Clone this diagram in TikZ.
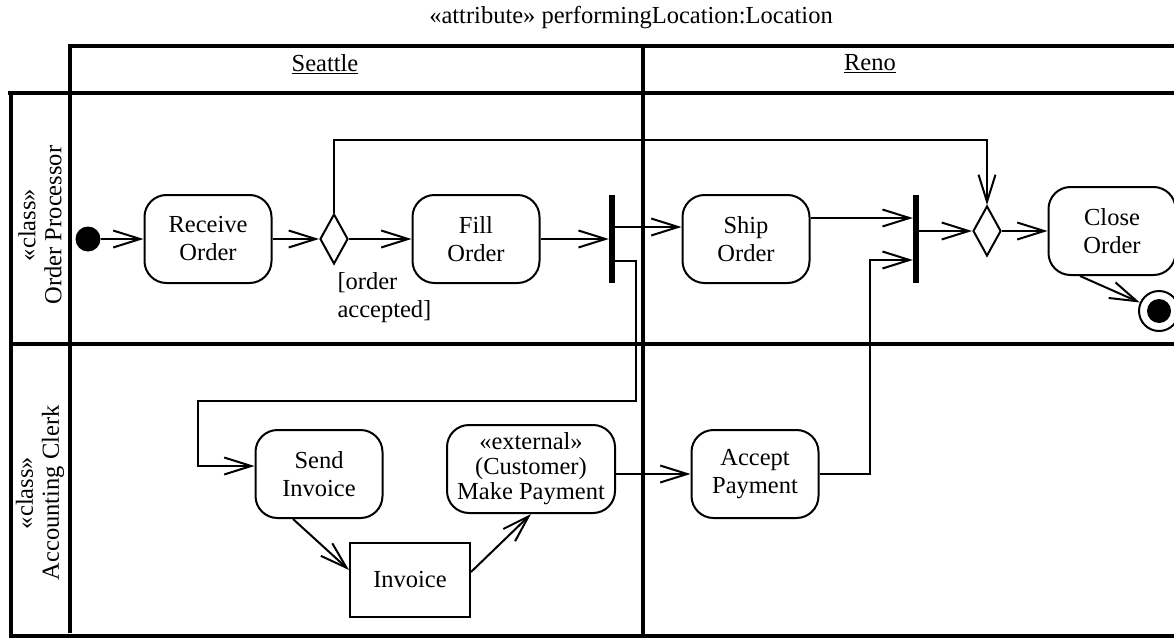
\documentclass[tikz,border=0pt]{standalone}
\usepackage{fontspec}
\setmainfont{Liberation Serif}
\usetikzlibrary{arrows.meta,shapes.geometric}

\begin{document}
\begin{tikzpicture}[x=1pt, y=-1pt,
  every node/.style={font=\fontsize{24.5}{28}\selectfont, align=center},
  action/.style={draw, line width=2pt, rounded corners=22pt, minimum width=127pt, minimum height=88pt, inner sep=2pt},
  decision/.style={draw, diamond, line width=2pt, minimum width=28pt, minimum height=50pt, inner sep=0pt},
  bar/.style={fill, minimum width=6pt, minimum height=88pt, inner sep=0pt},
  flow/.style={line width=2pt, -{Straight Barb[length=27pt,width=17pt,line width=2pt]}},
  lane/.style={line width=4.5pt}]
\useasboundingbox (0,0) rectangle (1174,639);

% partitions
\draw[lane] (68,46) -- (1174,46);
\draw[lane] (70,44) -- (70,633);
\draw[lane] (8,93) -- (1174,93);
\draw[lane] (11,91) -- (11,638);
\draw[lane] (9,344) -- (1174,344);
\draw[lane] (9,636) -- (1174,636);
\draw[lane] (643,44) -- (643,638);
\node (title) at (631,18) {«attribute» performingLocation:Location};
\node (seattle) at (325,64) {\underline{Seattle}};
\node (reno) at (870,64) {\underline{Reno}};
\node[rotate=90, font=\fontsize{24.5}{26}\selectfont] (proc) at (40,225) {«class»\\Order Processor};
\node[rotate=90, font=\fontsize{24.5}{26}\selectfont] (clerk) at (40,493) {«class»\\Accounting Clerk};

% Order Processor
\node[circle, fill, minimum size=25pt, inner sep=0pt] (start) at (88,239) {};
\node[action] (receive) at (208,239) {Receive\\Order};
\node[decision] (dec1) at (334,239) {};
\node[anchor=west, align=left] (guard) at (334,298) {[order\\accepted]};
\node[action] (fill) at (476,239) {Fill\\Order};
\node[bar] (fork) at (612,239) {};
\node[action] (ship) at (746,239) {Ship\\Order};
\node[bar] (join) at (916,239) {};
\node[decision] (dec2) at (987,231) {};
\node[action] (close) at (1112,231) {Close\\Order};
\node[circle, draw, line width=2pt, minimum size=40pt, inner sep=0pt] (final) at (1159,311) {};
\node[circle, fill, minimum size=24pt, inner sep=0pt] (finaldot) at (final) {};

% Accounting Clerk
\node[action] (send) at (319,474) {Send\\Invoice};
\node[draw, line width=2pt, minimum width=120pt, minimum height=74pt] (invoice) at (410,580) {Invoice};
\node[action, minimum width=168pt, font=\fontsize{24.5}{25}\selectfont] (pay) at (531,469) {«external»\\(Customer)\\Make Payment};
\node[action] (accept) at (755,474) {Accept\\Payment};

% bends
\coordinate (loopTop) at (987,140);
\coordinate (forkR) at (636,401);
\coordinate (forkL) at (198,401);
\coordinate (payUp) at (870,260);

% flows
\draw[flow] (start) -- (receive);
\draw[flow] (receive) -- (dec1);
\draw[flow] (dec1) -- (fill);
\draw[flow] (fill) -- (fork);
\draw[flow] ([yshift=12pt]fork.east) -- ([yshift=12pt]ship.west);
\draw[flow] ([yshift=-22pt]fork.east) -| (forkR) -- (forkL) |- ([yshift=8pt]send.west);
\draw[flow] ([yshift=21pt]ship.east) -- ([yshift=21pt]join.west);
\draw[flow] (join.east |- dec2.west) -- (dec2.west);
\draw[flow] (dec1.north) |- (loopTop) -- (dec2.north);
\draw[flow] (dec2) -- (close);
\draw[flow] ([xshift=-32pt]close.south) -- (final);
\draw[flow] ([xshift=-26pt]send.south) -- ([yshift=10pt]invoice.west);
\draw[flow] ([yshift=8pt]invoice.east) -- (pay.south);
\draw[flow] (pay.east |- accept.west) -- (accept.west);
\draw[flow] (accept.east) -| (payUp) -- (join.west |- payUp);
\end{tikzpicture}
\end{document}
